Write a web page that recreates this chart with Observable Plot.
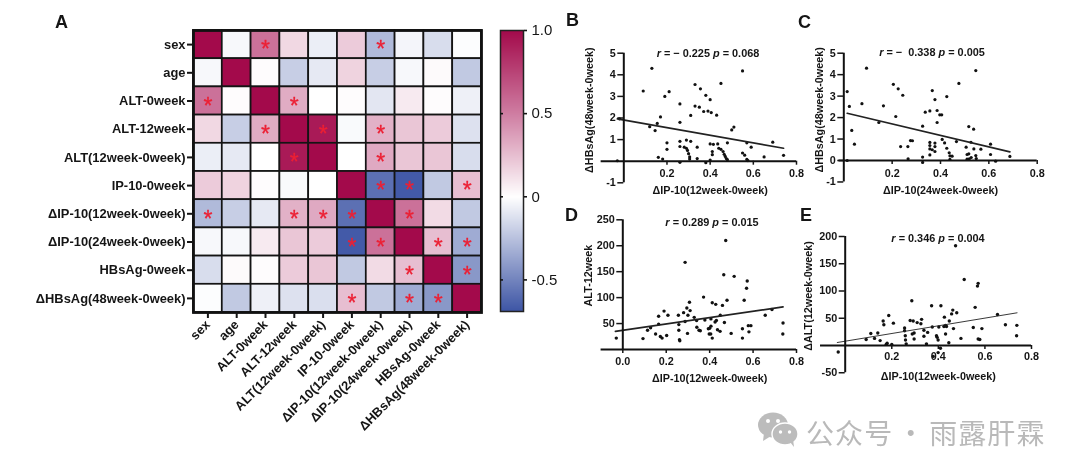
<!DOCTYPE html>
<html><head><meta charset="utf-8">
<script src="https://cdn.jsdelivr.net/npm/d3@7"></script>
<script src="https://cdn.jsdelivr.net/npm/@observablehq/plot@0.6"></script>
<style>
html,body{margin:0;padding:0;background:#fff}
#page{position:relative;width:1080px;height:473px;overflow:hidden;filter:blur(0.45px);font-family:"Liberation Sans",Arial,sans-serif;color:#151515}
#page>svg{position:absolute;overflow:visible}
.lab{position:absolute;font-weight:bold;font-size:18px;line-height:18px}
.stat{position:absolute;font-weight:bold;font-size:10.9px;line-height:12px;white-space:pre;transform:translateX(-50%)}
.wm{position:absolute;font-family:"Noto Sans CJK SC";font-size:28px;line-height:42px;color:#b9b9b9;letter-spacing:1.1px;word-spacing:-4px;white-space:pre}
</style></head><body><div id="page"></div>
<script>
// ---------- heatmap data ----------
const categories=["sex","age","ALT-0week","ALT-12week","ALT(12week-0week)","IP-10-0week","ΔIP-10(12week-0week)","ΔIP-10(24week-0week)","HBsAg-0week","ΔHBsAg(48week-0week)"];
const rowSex=[1,-0.03,0.55,0.15,-0.07,0.2,-0.28,-0.04,-0.14,-0.01];
const rowAge=[-0.03,1,0.01,-0.2,-0.09,0.17,-0.2,-0.03,0.02,-0.22];
const rowAlt0=[0.55,0.01,1,0.32,0,0.01,-0.1,0.08,0.01,-0.06];
const rowAlt12=[0.15,-0.2,0.32,1,0.93,-0.02,0.3,0.22,0.2,-0.12];
const rowAltD=[-0.07,-0.09,0,0.93,1,0,0.33,0.22,0.22,-0.14];
const rowIp0=[0.2,0.17,0.01,-0.02,0,1,-0.58,-0.67,-0.22,0.25];
const rowIp12=[-0.28,-0.2,-0.09,0.3,0.33,-0.58,1,0.55,0.14,-0.22];
const rowIp24=[-0.03,-0.03,0.08,0.22,0.2,-0.67,0.55,1,0.25,-0.34];
const rowHbs=[-0.14,0.02,0.01,0.2,0.22,-0.22,0.14,0.25,1,-0.42];
const rowHbsD=[-0.01,-0.22,-0.06,-0.12,-0.13,0.25,-0.22,-0.34,-0.42,1];
const rows=[rowSex,rowAge,rowAlt0,rowAlt12,rowAltD,rowIp0,rowIp12,rowIp24,rowHbs,rowHbsD];
// significant cells as [row, column] indices
const significant=[[0,2],[0,6],[2,0],[2,3],[3,2],[3,4],[3,6],[4,3],[4,6],[5,6],[5,7],[5,9],[6,0],[6,3],[6,4],[6,5],[6,7],[7,5],[7,6],[7,8],[7,9],[8,7],[8,9],[9,5],[9,7],[9,8]];
const colorDomain=[-0.69,0,0.5,1];
const colorRange=["#3d55a5","#ffffff","#cf7da2","#a30a4b"];
const colorTicks=[-0.5,0,0.5,1];

// ---------- scatter data ----------
const bX=[0.09,0.13,0.12,0.145,0.155,0.17,0.19,0.21,0.26,0.26,0.33,0.355,0.38,0.40,0.33,0.35,0.37,0.39,0.405,0.43,0.31,0.45,0.55,0.50,0.51,0.48,0.57,0.59,0.69,0.74,0.65,0.55,0.56,0.57,0.575,0.16,0.18,0.2,0.2,0.26,0.26,0.29,0.31,0.28,0.29,0.295,0.3,0.305,0.305,0.26,0.34,0.34,0.38,0.4,0.4,0.415,0.435,0.44,0.45,0.46,0.41,0.41,0.465,0.47,0.475,0.48,-0.03,-0.02];
const bY=[3.25,4.3,1.6,1.42,1.75,2.05,3.0,3.22,2.65,1.8,3.55,3.35,3.05,2.85,2.55,2.5,2.3,2.32,2.25,2.13,2.12,3.6,4.18,1.45,1.58,0.85,0.85,0.65,0.88,0.27,0.2,0.38,0.28,0.08,0.03,0.18,0.1,0.85,0.55,0.92,0.68,0.98,0.92,0.65,0.6,0.5,0.35,0.2,0.1,-0.05,0.65,0.12,-0.07,0.05,0.8,0.78,0.8,0.6,0.55,0.45,0.45,0.3,0.32,0.22,0.12,0.07,0.02,1.96];
const bLineX=[-0.03,0.74], bLineY=[1.96,0.6];
const cX=[0.014,0.014,0.023,0.033,0.044,0.075,0.094,0.145,0.164,0.205,0.225,0.244,0.215,0.235,0.265,0.266,0.276,0.284,0.326,0.326,0.326,0.337,0.356,0.366,0.377,0.386,0.386,0.397,0.405,0.426,0.476,0.546,0.517,0.537,0.407,0.417,0.466,0.506,0.526,0.538,0.567,0.607,0.607,0.628,0.687,0.356,0.356,0.356,0.356,0.366,0.377,0.377,0.377,0.426,0.436,0.439,0.448,0.439,0.51,0.517,0.51,0.519,0.527,0.546,0.548];
const cY=[3.21,0,2.52,1.4,0.76,2.65,4.3,1.77,2.55,3.55,3.34,3.04,2.05,0.65,0.65,0.08,0.93,0.92,1.6,0.16,-0.09,2.25,2.31,3.26,2.84,2.33,1.77,2.13,2.13,2.98,3.59,4.19,1.58,1.46,0.98,0.82,0.88,0.62,0.85,0.54,0.53,0.76,0.28,-0.03,0.19,0.84,0.7,0.54,0.26,0.5,0.81,0.65,0.42,0.57,0.36,0.22,0.2,0.05,0.28,0.31,0.06,0.08,0.14,0.23,0.09];
const cLineX=[0.014,0.687], cLineY=[2.2,0.4];
const dX=[-0.03,0.093,0.114,0.128,0.151,0.165,0.165,0.173,0.181,0.19,0.202,0.208,0.256,0.258,0.258,0.261,0.2625,0.28,0.287,0.287,0.295,0.30,0.298,0.307,0.31,0.329,0.34,0.341,0.351,0.357,0.372,0.378,0.394,0.398,0.405,0.40,0.406,0.406,0.412,0.412,0.428,0.425,0.431,0.436,0.449,0.448,0.459,0.465,0.468,0.474,0.48,0.499,0.513,0.551,0.551,0.559,0.57,0.573,0.578,0.581,0.59,0.656,0.687,0.738,0.737];
const dY=[22,21,37,42,30,64,49,25,22,74,27,66,66,48,37,19,17,71,168,54,80,66,31,91,75,62,56,43,37,36,101,57,40,30,30,41,59,45,90,22,87,53,56,38,66,35,85,144,52,210,95,31,141,22,40,95,118,132,46,34,46,66,77,51,30];
const dLineX=[-0.034,0.738], dLineY=[35,82];
const eX=[-0.03,0.09,0.11,0.126,0.14,0.15,0.163,0.166,0.176,0.18,0.187,0.2,0.207,0.255,0.255,0.258,0.259,0.262,0.279,0.286,0.292,0.288,0.296,0.296,0.309,0.325,0.328,0.338,0.338,0.349,0.354,0.371,0.374,0.378,0.392,0.395,0.399,0.399,0.402,0.411,0.409,0.426,0.424,0.431,0.431,0.435,0.445,0.447,0.457,0.462,0.465,0.479,0.474,0.497,0.511,0.55,0.558,0.568,0.571,0.571,0.578,0.587,0.654,0.688,0.737,0.736];
const eY=[-12,11,22,13,23,9,45,38,2,4,55,2,41,32,27,18,10,3,46,82,45,21,23,12,42,40,48,28,17,3,24,73,34,-20,18,15,10,-13,34,73,-5,52,35,37,21,35,5,45,58,65,31,60,183,13,121,33,70,109,114,12,11,31,57,38,37,18];
const eLineX=[-0.034,0.738], eLineY=[5.5,60];

const page=document.getElementById("page");
const place=(el,left,top)=>{el.style.left=left+"px";el.style.top=top+"px";page.appendChild(el);};
const baseStyle={fontFamily:"'Liberation Sans',Arial,sans-serif",fontWeight:"bold",background:"transparent",color:"#151515",overflow:"visible"};

// ---------- panel A ----------
const cellData=rows.flatMap((r,i)=>r.map((v,j)=>({row:categories[i],col:categories[j],v})));
const starData=significant.map(([i,j])=>({row:categories[i],col:categories[j]}));
const colorScale={type:"linear",domain:colorDomain,range:colorRange,interpolate:"rgb"};
place(Plot.plot({
  width:490,height:460,marginLeft:193,marginRight:9,marginTop:30,marginBottom:148,
  style:baseStyle,
  x:{type:"band",domain:categories,padding:0,round:false},
  y:{type:"band",domain:categories,padding:0,round:false},
  color:colorScale,
  marks:[
    Plot.cell(cellData,{x:"col",y:"row",fill:"v",stroke:"#141414",strokeWidth:1.7}),
    Plot.text(starData,{x:"col",y:"row",text:()=>"*",fill:"#ec1f33",stroke:"#ec1f33",strokeWidth:0.3,fontSize:23,fontWeight:"normal",dy:5.5}),
    Plot.frame({stroke:"#111",strokeWidth:2.8}),
    Plot.axisX({anchor:"bottom",label:null,tickRotate:-45,tickSize:6,tickPadding:4,fontSize:12.9,strokeWidth:2}),
    Plot.axisY({anchor:"left",label:null,tickSize:6,tickPadding:2,fontSize:12.9,strokeWidth:2})
  ]
}),0,0);

// colour bar
place(Plot.plot({
  width:70,height:305,marginLeft:10,marginRight:37,marginTop:10,marginBottom:14,
  style:{...baseStyle,fontWeight:"normal"},
  x:{domain:[0,1],axis:null},
  y:{domain:[-0.69,1]},
  color:colorScale,
  marks:[
    Plot.raster({x1:0,x2:1,y1:-0.69,y2:1,fill:(x,y)=>y,pixelSize:1}),
    Plot.frame({stroke:"#222",strokeWidth:1.5}),
    Plot.axisY({anchor:"right",ticks:colorTicks,label:null,tickSize:3,tickPadding:5,fontSize:15,strokeWidth:1.6,
      tickFormat:d=>d===1?"1.0":String(d)}),
    Plot.axisY({anchor:"left",ticks:colorTicks.slice(0,3),label:null,tickSize:-3,tickFormat:()=>"",strokeWidth:1.6})
  ]
}),490,20);

// ---------- scatter panels ----------
function scatter(o){
  const pts=o.xs.map((x,i)=>({x,y:o.ys[i]}));
  const line=o.lx.map((x,i)=>({x,y:o.ly[i]}));
  const svg=Plot.plot({
    width:o.w,height:o.h,marginLeft:o.ml,marginRight:o.mr,marginTop:o.mt,marginBottom:o.mb,
    style:baseStyle,
    x:{domain:[0,0.8]},
    y:{domain:[0,o.yMax]},
    marks:[
      Plot.dot(pts,{x:"x",y:"y",r:o.r||1.6,fill:"#111",stroke:"none"}),
      Plot.line(line,{x:"x",y:"y",stroke:"#222",strokeWidth:o.lw||1.7}),
      Plot.ruleX([0],{y1:o.yMin,y2:o.yMax,stroke:"#111",strokeWidth:2}),
      Plot.ruleY([0],{x1:o.xLeft,x2:0.8,stroke:"#111",strokeWidth:2}),
      Plot.axisX({anchor:"bottom",ticks:o.xTicks,label:null,tickSize:4,tickPadding:o.xpad||3,fontSize:10.8,strokeWidth:1.5,tickFormat:d=>d.toFixed(1)}),
      Plot.axisY({anchor:"left",ticks:o.yTicks,label:null,tickSize:6,tickPadding:2,fontSize:10.8,strokeWidth:1.5,tickFormat:d=>String(d)}),
      Plot.text([o.xTitle],{frameAnchor:"bottom",text:d=>d,fontSize:10.8,dy:o.xtDy,lineAnchor:"middle"}),
      Plot.text([o.yTitle],{frameAnchor:"left",text:d=>d,fontSize:10.8,rotate:-90,textAnchor:"middle",dx:o.ytDx,dy:o.ytDy,lineAnchor:"middle"})
    ]
  });
  place(svg,o.left,o.top);
}
scatter({left:565,top:30,w:240,h:170,ml:58.3,mr:9,mt:22.7,mb:39.3,yMax:5,yMin:-1,xLeft:-0.105,xpad:4,
  xs:bX,ys:bY,lx:bLineX,ly:bLineY,xTicks:[0.2,0.4,0.6,0.8],yTicks:[-1,1,2,3,4,5],
  xTitle:"ΔIP-10(12week-0week)",yTitle:"ΔHBsAg(48week-0week)",xtDy:29,ytDx:-34,ytDy:3});
scatter({left:805,top:30,w:245,h:170,ml:38.3,mr:13.3,mt:22.7,mb:40,yMax:5,yMin:-1,xLeft:-0.02,xpad:5,
  xs:cX,ys:cY,lx:cLineX,ly:cLineY,xTicks:[0.2,0.4,0.6,0.8],yTicks:[-1,0,1,2,3,4,5],
  xTitle:"ΔIP-10(24week-0week)",yTitle:"ΔHBsAg(48week-0week)",xtDy:30,ytDx:-24,ytDy:3});
scatter({left:565,top:205,w:240,h:185,ml:57.3,mr:9,mt:14.3,mb:41,yMax:250,yMin:0,xLeft:-0.1,r:1.7,xpad:4,
  xs:dX,ys:dY,lx:dLineX,ly:dLineY,xTicks:[0,0.2,0.4,0.6,0.8],yTicks:[50,100,150,200,250],
  xTitle:"ΔIP-10(12week-0week)",yTitle:"ALT-12week",xtDy:29,ytDx:-34,ytDy:-9});
scatter({left:805,top:205,w:245,h:185,ml:39.7,mr:19,mt:31,mb:45,yMax:200,yMin:-50,xLeft:-0.106,lw:0.9,r:1.7,
  xs:eX,ys:eY,lx:eLineX,ly:eLineY,xTicks:[0.2,0.4,0.6,0.8],yTicks:[-50,50,100,150,200],
  xTitle:"ΔIP-10(12week-0week)",yTitle:"ΔALT(12week-0week)",xtDy:31,ytDx:-37,ytDy:5});

// ---------- text outside the SVGs ----------
const addLabel=(t,x,y)=>{const d=document.createElement("div");d.className="lab";d.textContent=t;place(d,x,y);};
addLabel("A",55,13);addLabel("B",566,11);addLabel("C",798,13);addLabel("D",565,206);addLabel("E",800,206);
const addStat=(html,x,y)=>{const d=document.createElement("div");d.className="stat";d.innerHTML=html;place(d,x,y);};
addStat("<i>r</i> = − 0.225 <i>p</i> = 0.068",708,47);
addStat("<i>r</i> = −  0.338 <i>p</i> = 0.005",932,46);
addStat("<i>r</i> = 0.289 <i>p</i> = 0.015",712,216);
addStat("<i>r</i> = 0.346 <i>p</i> = 0.004",938,232);

const wm=document.createElement("div");wm.className="wm";wm.textContent="公众号 · 雨露肝霖";place(wm,806,411);
const ns="http://www.w3.org/2000/svg";
const icon=document.createElementNS(ns,"svg");
icon.setAttribute("width","42");icon.setAttribute("height","36");icon.setAttribute("viewBox","0 0 42 36");
icon.innerHTML='<ellipse cx="16" cy="13" rx="15" ry="12.5" fill="#bcbcbc"/><path d="M7 21 L6 29 L14 24Z" fill="#bcbcbc"/><ellipse cx="28" cy="22" rx="13" ry="11" fill="#bcbcbc" stroke="#fff" stroke-width="1.4"/><path d="M33 30 L37 35 L36 27Z" fill="#bcbcbc"/><circle cx="11" cy="9" r="2" fill="#fff"/><circle cx="21" cy="9" r="2" fill="#fff"/><circle cx="23.500" cy="20" r="1.700" fill="#fff"/><circle cx="32.500" cy="20" r="1.700" fill="#fff"/>';
place(icon,757,412);
</script></body></html>
